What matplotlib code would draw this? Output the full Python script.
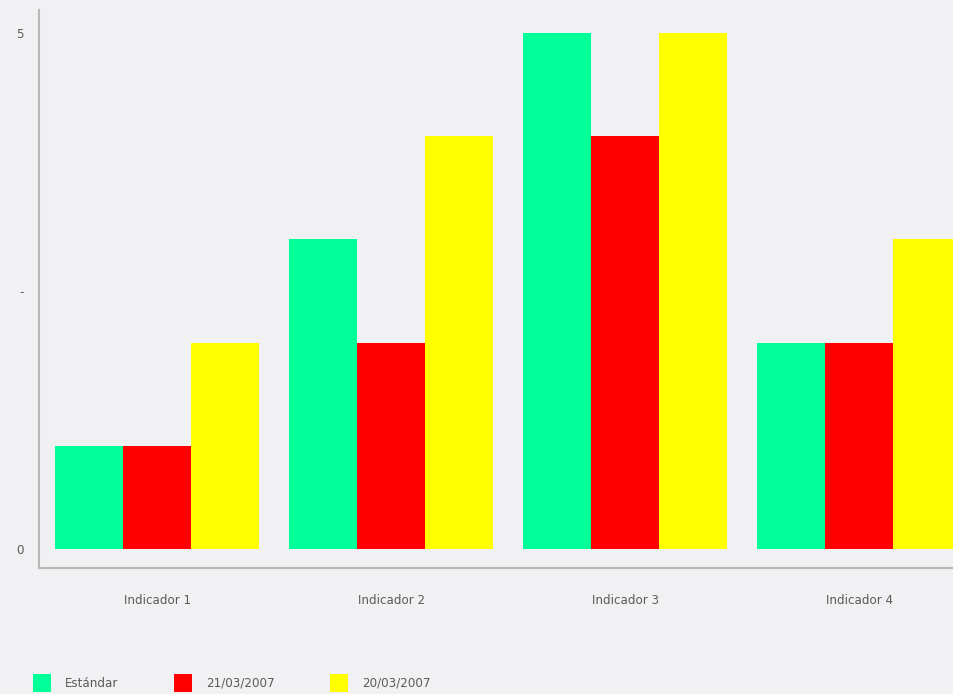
import matplotlib.pyplot as plt
import numpy as np
from matplotlib.patches import Patch

# datos del grafico
indicadores = ["Indicador 1", "Indicador 2", "Indicador 3", "Indicador 4"]
series = ["Estándar", "21/03/2007", "20/03/2007"]
estandar = [1, 3, 5, 2]
fecha_21 = [1, 2, 4, 2]
fecha_20 = [2, 4, 5, 3]
colores = ["#00FF99", "#FF0000", "#FFFF00"]

ytick_vals = [0, 2.5, 5]
ytick_labels = ["0", "-", "5"]

bg = "#f1f1f3"
txt = "#5a5a5a"
fs = 8.6

W, H = 954, 694
fig = plt.figure(figsize=(W / 100, H / 100), dpi=100, facecolor=bg)
ax = fig.add_axes([39.5 / W, 1 - 568 / H, 1 - 39.5 / W, (568 - 10) / H])
ax.set_facecolor(bg)

x = np.arange(len(indicadores))
w = 68 / 234
for i, vals in enumerate([estandar, fecha_21, fecha_20]):
    ax.bar(x + (i - 1) * w, vals, width=w, color=colores[i], label=series[i],
           linewidth=0)

ax.set_xlim(-0.504, 3.404)
ax.set_ylim(-0.184, 5.223)

ax.set_xticks(x)
ax.set_xticklabels(indicadores)
ax.set_yticks(ytick_vals)
ax.set_yticklabels(ytick_labels)
ax.tick_params(axis="both", length=0, labelsize=fs, labelcolor=txt)
ax.tick_params(axis="x", pad=19)
ax.tick_params(axis="y", pad=11.5)

for s in ["top", "right"]:
    ax.spines[s].set_visible(False)
for s in ["left", "bottom"]:
    ax.spines[s].set_color("#b8b8b8")
    ax.spines[s].set_linewidth(1.5)

handles = [Patch(facecolor=c, edgecolor="none") for c in colores]
fig.legend(handles, series, loc="upper left",
           bbox_to_anchor=(33 / W, 1 - 674 / H), ncol=3, frameon=False,
           fontsize=fs, labelcolor=txt, handlelength=1.5, handleheight=1.95,
           handletextpad=1.18, columnspacing=4.65, borderpad=0,
           borderaxespad=0)

fig.savefig("out.png", dpi=100, facecolor=bg)
